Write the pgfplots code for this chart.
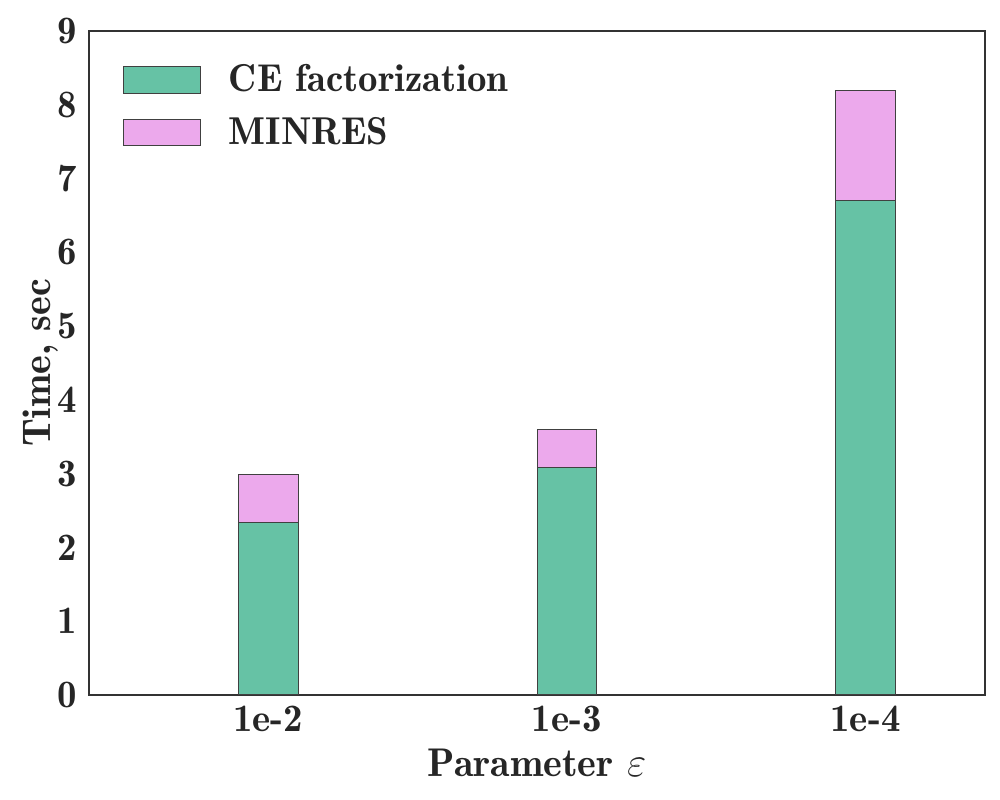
\documentclass[border=0pt]{standalone}
\usepackage{pgfplots}
\pgfplotsset{compat=1.18}
\definecolor{ceg}{HTML}{66C2A5}
\definecolor{minp}{HTML}{ECA9EC}
\definecolor{axc}{HTML}{333333}
\newcommand{\bdemi}{\fontseries{b}\selectfont}
\begin{document}
\begin{tikzpicture}
\begin{axis}[
  scale only axis,
  width=369pt, height=273.4pt,
  ybar stacked,
  bar width=0.2,
  xmin=-0.6, xmax=2.4,
  ymin=0, ymax=9,
  ytick={0,1,...,9},
  xtick={0,1,2},
  xticklabels={1e-2,1e-3,1e-4},
  major tick length=0pt,
  axis line style={axc, line width=0.9pt},
  tick label style={font=\fontsize{16pt}{19pt}\bdemi, text=black!85},
  yticklabel style={xshift=-1.5pt},
  xticklabel style={yshift=-1pt},
  /pgf/number format/assume math mode=true,
  xlabel={Parameter $\varepsilon$},
  ylabel={Time, sec},
  label style={font=\fontsize{16.5pt}{19pt}\bdemi, text=black!85},
  xlabel style={at={(axis description cs:0.5,-0.1236)}, anchor=base},
  ylabel style={at={(axis description cs:-0.0434,0.5)}, anchor=base},
  legend style={draw=none, fill=none, at={(0.0296,0.965)}, anchor=north west,
    font=\fontsize{16pt}{19pt}\bdemi, text=black!85, row sep=5pt,
    /tikz/every odd column/.append style={column sep=9.6pt}},
  legend cell align=left,
  legend image code/.code={\draw[#1] (0pt,-5.5pt) rectangle (31.5pt,5.5pt);},
]
\addplot+[fill=ceg, draw=black!75, line width=0.4pt] coordinates {(0,2.34) (1,3.08) (2,6.70)};
\addplot+[fill=minp, draw=black!75, line width=0.4pt] coordinates {(0,0.65) (1,0.52) (2,1.49)};
\legend{CE factorization, MINRES}
\end{axis}
\pgfresetboundingbox
\path ([shift={(-36.7pt,-43.2pt)}]current axis.south west) rectangle ([shift={(6.2pt,12.8pt)}]current axis.north east);
\end{tikzpicture}
\end{document}
